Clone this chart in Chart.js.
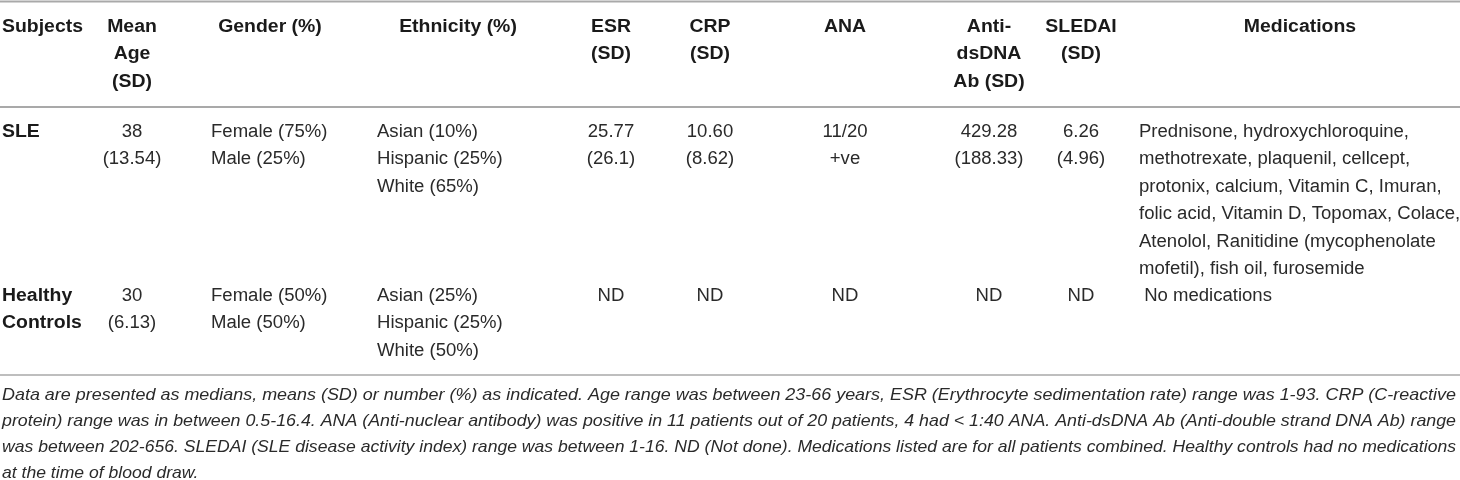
<!DOCTYPE html>
<html>
<head>
<meta charset="utf-8">
<script src="https://cdn.jsdelivr.net/npm/chart.js@4.4.1/dist/chart.umd.min.js"></script>
<style>
  html, body { margin: 0; padding: 0; background: #fff; }
  #wrap { width: 1460px; height: 480px; position: relative; }
</style>
</head>
<body>
<div id="wrap"><canvas id="tableChart"></canvas></div>
<script>
// ---------- DATA ----------
const headers = [
    ["Subjects"],
    ["Mean", "Age", "(SD)"],
    ["Gender (%)"],
    ["Ethnicity (%)"],
    ["ESR", "(SD)"],
    ["CRP", "(SD)"],
    ["ANA"],
    ["Anti-", "dsDNA", "Ab (SD)"],
    ["SLEDAI", "(SD)"],
    ["Medications"]
];

const subjects = [["SLE"], ["Healthy", "Controls"]];
const meanAge = [["38", "(13.54)"], ["30", "(6.13)"]];
const gender = [["Female (75%)", "Male (25%)"], ["Female (50%)", "Male (50%)"]];
const ethnicity = [
    ["Asian (10%)", "Hispanic (25%)", "White (65%)"],
    ["Asian (25%)", "Hispanic (25%)", "White (50%)"]
];
const esr = [["25.77", "(26.1)"], ["ND"]];
const crp = [["10.60", "(8.62)"], ["ND"]];
const ana = [["11/20", "+ve"], ["ND"]];
const antiDsDna = [["429.28", "(188.33)"], ["ND"]];
const sledai = [["6.26", "(4.96)"], ["ND"]];
const medications = [
    [
        "Prednisone, hydroxychloroquine,",
        "methotrexate, plaquenil, cellcept,",
        "protonix, calcium, Vitamin C, Imuran,",
        "folic acid, Vitamin D, Topomax, Colace,",
        "Atenolol, Ranitidine (mycophenolate",
        "mofetil), fish oil, furosemide"
    ],
    [" No medications"]
];

const footnote = [
    "Data are presented as medians, means (SD) or number (%) as indicated. Age range was between 23-66 years, ESR (Erythrocyte sedimentation rate) range was 1-93. CRP (C-reactive",
    "protein) range was in between 0.5-16.4. ANA (Anti-nuclear antibody) was positive in 11 patients out of 20 patients, 4 had < 1:40 ANA. Anti-dsDNA Ab (Anti-double strand DNA Ab) range",
    "was between 202-656. SLEDAI (SLE disease activity index) range was between 1-16. ND (Not done). Medications listed are for all patients combined. Healthy controls had no medications",
    "at the time of blood draw."
];

// ---------- LAYOUT ----------
const columns = [
    { head: 2,    headAlign: "left",   body: 2,    bodyAlign: "left" },
    { head: 132,  headAlign: "center", body: 132,  bodyAlign: "center" },
    { head: 270,  headAlign: "center", body: 211,  bodyAlign: "left" },
    { head: 458,  headAlign: "center", body: 377,  bodyAlign: "left" },
    { head: 611,  headAlign: "center", body: 611,  bodyAlign: "center" },
    { head: 710,  headAlign: "center", body: 710,  bodyAlign: "center" },
    { head: 845,  headAlign: "center", body: 845,  bodyAlign: "center" },
    { head: 989,  headAlign: "center", body: 989,  bodyAlign: "center" },
    { head: 1081, headAlign: "center", body: 1081, bodyAlign: "center" },
    { head: 1300, headAlign: "center", body: 1139, bodyAlign: "left" }
];
const headerTop = 27;
const rowTops = [132, 296];
const lineStep = 27.5;
const footTop = 395;
const footStep = 26;
const ruleY = [1.5, 107, 375];

const boldFont = "bold 18px 'Liberation Sans', Arial, sans-serif";
const bodyFont = "18px 'Liberation Sans', Arial, sans-serif";
const footFont = "italic 16.5px 'Liberation Sans', Arial, sans-serif";
const boldStretch = 1.08;
const bodyStretch = 1.03;
const footWidth = 1454;

// ---------- CELLS ----------
const bodyColumns = [subjects, meanAge, gender, ethnicity, esr, crp, ana, antiDsDna, sledai, medications];
let cells = [];

headers.forEach((lines, c) => {
    lines.forEach((txt, k) => {
        cells.push({ x: columns[c].head, y: headerTop + k * lineStep, text: txt,
            align: columns[c].headAlign, font: boldFont, stretch: boldStretch, color: "#1a1a1a" });
    });
});

bodyColumns.forEach((col, c) => {
    col.forEach((lines, r) => {
        lines.forEach((txt, k) => {
            const isSubject = c === 0;
            cells.push({ x: columns[c].body, y: rowTops[r] + k * lineStep, text: txt,
                align: columns[c].bodyAlign,
                font: isSubject ? boldFont : bodyFont,
                stretch: isSubject ? boldStretch : bodyStretch,
                color: isSubject ? "#1a1a1a" : "#2a2a2a" });
        });
    });
});

footnote.forEach((txt, k) => {
    cells.push({ x: 2, y: footTop + k * footStep, text: txt, align: "left",
        font: footFont, stretch: k < footnote.length - 1 ? "fit" : "last", color: "#2a2a2a" });
});

// ---------- TEXT PLUGIN ----------
const cellText = {
    id: "cellText",
    afterDatasetsDraw(chart) {
        const ctx = chart.ctx;
        const meta = chart.getDatasetMeta(0);
        let lastFit = 1;
        ctx.save();
        ctx.textBaseline = "middle";
        meta.data.forEach((pt, i) => {
            const cell = cells[i];
            ctx.font = cell.font;
            ctx.fillStyle = cell.color;
            const raw = ctx.measureText(cell.text).width;
            let sx = cell.stretch;
            if (sx === "fit") { sx = footWidth / raw; lastFit = sx; }
            if (sx === "last") sx = lastFit;
            const w = raw * sx;
            let left = pt.x;
            if (cell.align === "center") left = pt.x - w / 2;
            if (cell.align === "right") left = pt.x - w;
            ctx.save();
            ctx.translate(left, pt.y);
            ctx.scale(sx, 1);
            ctx.textAlign = "left";
            ctx.fillText(cell.text, 0, 0);
            ctx.restore();
        });
        ctx.restore();
    }
};

// ---------- CHART ----------
const ruleSets = ruleY.map((y, i) => ({
    type: "line",
    data: [{ x: 0, y: y }, { x: 1460, y: y }],
    borderColor: "#a9a9a9",
    borderWidth: i === 2 ? 1.5 : 2,
    pointRadius: 0,
    clip: 4
}));

const ctx = document.getElementById("tableChart").getContext("2d");
new Chart(ctx, {
    type: "scatter",
    data: {
        datasets: [{
            label: "cells",
            data: cells.map(c => ({ x: c.x, y: c.y })),
            pointRadius: 0,
            pointHoverRadius: 0
        }].concat(ruleSets)
    },
    options: {
        responsive: true,
        maintainAspectRatio: false,
        animation: false,
        events: [],
        layout: { padding: 0 },
        plugins: {
            legend: { display: false },
            tooltip: { enabled: false }
        },
        scales: {
            x: { type: "linear", min: 0, max: 1460, display: false },
            y: { type: "linear", min: 0, max: 480, reverse: true, display: false }
        }
    },
    plugins: [cellText]
});
</script>
</body>
</html>
